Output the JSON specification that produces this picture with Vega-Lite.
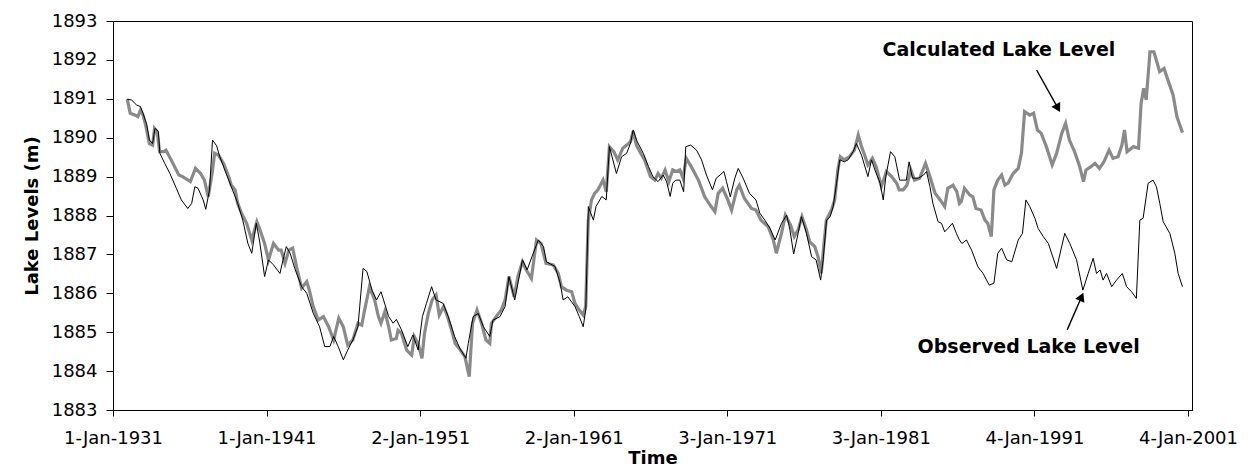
{
  "$schema": "https://vega.github.io/schema/vega-lite/v6.json",
  "width": 1079,
  "height": 389,
  "autosize": {"type": "none"},
  "padding": {"left": 113, "top": 21, "right": 57, "bottom": 56},
  "background": "white",
  "config": {
    "font": "DejaVu Sans",
    "view": {"stroke": "black", "strokeWidth": 1},
    "axis": {
      "grid": false,
      "domainColor": "black",
      "tickColor": "black",
      "labelColor": "black",
      "titleColor": "black",
      "labelFontSize": 18,
      "titleFontSize": 18,
      "titleFontWeight": "bold",
      "labelFont": "DejaVu Sans",
      "titleFont": "DejaVu Sans"
    }
  },
  "datasets": {
    "calculated": [
      {"date": "1931-12-05", "level": 1890.99},
      {"date": "1932-02-15", "level": 1890.63},
      {"date": "1932-06-15", "level": 1890.58},
      {"date": "1932-08-15", "level": 1890.54},
      {"date": "1932-10-15", "level": 1890.71},
      {"date": "1932-12-15", "level": 1890.58},
      {"date": "1933-02-15", "level": 1890.33},
      {"date": "1933-05-15", "level": 1889.85},
      {"date": "1933-08-01", "level": 1889.81},
      {"date": "1933-09-15", "level": 1890.24},
      {"date": "1933-11-15", "level": 1890.16},
      {"date": "1934-01-15", "level": 1889.64},
      {"date": "1934-04-15", "level": 1889.64},
      {"date": "1934-06-15", "level": 1889.68},
      {"date": "1934-10-15", "level": 1889.43},
      {"date": "1935-04-15", "level": 1889.04},
      {"date": "1935-07-15", "level": 1889.00},
      {"date": "1936-01-15", "level": 1888.87},
      {"date": "1936-05-15", "level": 1889.21},
      {"date": "1936-09-15", "level": 1889.08},
      {"date": "1936-12-15", "level": 1888.91},
      {"date": "1937-03-15", "level": 1888.48},
      {"date": "1937-06-15", "level": 1889.08},
      {"date": "1937-08-15", "level": 1889.60},
      {"date": "1937-11-15", "level": 1889.55},
      {"date": "1938-03-15", "level": 1889.34},
      {"date": "1938-07-15", "level": 1889.00},
      {"date": "1938-09-15", "level": 1888.78},
      {"date": "1938-12-15", "level": 1888.66},
      {"date": "1939-02-15", "level": 1888.31},
      {"date": "1939-05-15", "level": 1888.06},
      {"date": "1939-09-15", "level": 1887.80},
      {"date": "1940-01-15", "level": 1887.37},
      {"date": "1940-05-15", "level": 1887.84},
      {"date": "1940-07-15", "level": 1887.67},
      {"date": "1940-11-15", "level": 1887.28},
      {"date": "1941-02-15", "level": 1886.86},
      {"date": "1941-06-15", "level": 1887.28},
      {"date": "1941-10-15", "level": 1887.11},
      {"date": "1941-12-15", "level": 1887.11},
      {"date": "1942-03-15", "level": 1886.77},
      {"date": "1942-06-15", "level": 1887.11},
      {"date": "1942-09-15", "level": 1887.16},
      {"date": "1942-12-15", "level": 1886.68},
      {"date": "1943-04-15", "level": 1886.13},
      {"date": "1943-08-15", "level": 1886.30},
      {"date": "1943-10-15", "level": 1886.08},
      {"date": "1944-01-15", "level": 1885.66},
      {"date": "1944-05-15", "level": 1885.31},
      {"date": "1944-09-15", "level": 1885.40},
      {"date": "1945-01-15", "level": 1885.14},
      {"date": "1945-05-15", "level": 1884.80},
      {"date": "1945-09-15", "level": 1885.36},
      {"date": "1946-01-01", "level": 1885.14},
      {"date": "1946-04-15", "level": 1884.67},
      {"date": "1946-08-15", "level": 1884.80},
      {"date": "1946-12-15", "level": 1885.23},
      {"date": "1947-03-15", "level": 1885.18},
      {"date": "1947-05-15", "level": 1885.53},
      {"date": "1947-09-15", "level": 1886.17},
      {"date": "1948-01-15", "level": 1885.83},
      {"date": "1948-04-15", "level": 1885.40},
      {"date": "1948-06-15", "level": 1885.23},
      {"date": "1948-09-15", "level": 1885.53},
      {"date": "1948-12-15", "level": 1885.14},
      {"date": "1949-02-15", "level": 1884.80},
      {"date": "1949-06-15", "level": 1884.84},
      {"date": "1949-07-25", "level": 1885.05},
      {"date": "1949-10-15", "level": 1884.97},
      {"date": "1950-02-15", "level": 1884.54},
      {"date": "1950-06-15", "level": 1884.41},
      {"date": "1950-08-15", "level": 1884.89},
      {"date": "1950-11-15", "level": 1884.71},
      {"date": "1951-02-15", "level": 1884.33},
      {"date": "1951-04-15", "level": 1884.97},
      {"date": "1951-07-15", "level": 1885.48},
      {"date": "1951-10-15", "level": 1885.83},
      {"date": "1952-01-15", "level": 1885.96},
      {"date": "1952-04-01", "level": 1885.44},
      {"date": "1952-07-15", "level": 1885.66},
      {"date": "1952-10-15", "level": 1885.40},
      {"date": "1953-01-15", "level": 1885.06},
      {"date": "1953-04-15", "level": 1884.71},
      {"date": "1953-08-15", "level": 1884.54},
      {"date": "1953-12-01", "level": 1884.37},
      {"date": "1954-03-15", "level": 1883.86},
      {"date": "1954-06-01", "level": 1885.23},
      {"date": "1954-09-15", "level": 1885.57},
      {"date": "1955-01-01", "level": 1885.23},
      {"date": "1955-04-15", "level": 1884.80},
      {"date": "1955-07-15", "level": 1884.71},
      {"date": "1955-08-25", "level": 1885.23},
      {"date": "1955-12-15", "level": 1885.40},
      {"date": "1956-04-15", "level": 1885.57},
      {"date": "1956-07-15", "level": 1885.83},
      {"date": "1956-10-15", "level": 1886.43},
      {"date": "1957-02-15", "level": 1885.91},
      {"date": "1957-05-15", "level": 1886.43},
      {"date": "1957-09-01", "level": 1886.81},
      {"date": "1957-12-01", "level": 1886.60},
      {"date": "1958-04-01", "level": 1886.38},
      {"date": "1958-08-01", "level": 1887.37},
      {"date": "1958-11-15", "level": 1887.28},
      {"date": "1959-03-15", "level": 1886.77},
      {"date": "1959-09-01", "level": 1886.73},
      {"date": "1960-01-01", "level": 1886.51},
      {"date": "1960-03-15", "level": 1886.17},
      {"date": "1960-07-15", "level": 1886.08},
      {"date": "1960-11-15", "level": 1886.04},
      {"date": "1961-02-01", "level": 1885.74},
      {"date": "1961-05-15", "level": 1885.57},
      {"date": "1961-08-15", "level": 1885.44},
      {"date": "1961-10-15", "level": 1885.66},
      {"date": "1961-11-15", "level": 1886.86},
      {"date": "1961-12-15", "level": 1887.88},
      {"date": "1962-03-01", "level": 1888.40},
      {"date": "1962-05-15", "level": 1888.57},
      {"date": "1962-08-01", "level": 1888.66},
      {"date": "1962-12-01", "level": 1888.91},
      {"date": "1963-02-15", "level": 1888.61},
      {"date": "1963-05-01", "level": 1889.77},
      {"date": "1963-08-15", "level": 1889.64},
      {"date": "1963-11-15", "level": 1889.43},
      {"date": "1964-03-15", "level": 1889.73},
      {"date": "1964-06-15", "level": 1889.81},
      {"date": "1964-09-15", "level": 1889.90},
      {"date": "1964-11-15", "level": 1890.16},
      {"date": "1965-02-01", "level": 1889.81},
      {"date": "1965-05-15", "level": 1889.60},
      {"date": "1965-08-15", "level": 1889.43},
      {"date": "1966-01-01", "level": 1889.00},
      {"date": "1966-04-15", "level": 1888.91},
      {"date": "1966-07-01", "level": 1889.08},
      {"date": "1966-09-15", "level": 1888.96},
      {"date": "1966-12-15", "level": 1889.17},
      {"date": "1967-03-15", "level": 1888.87},
      {"date": "1967-06-15", "level": 1889.17},
      {"date": "1967-09-15", "level": 1889.13},
      {"date": "1967-12-01", "level": 1889.17},
      {"date": "1968-02-15", "level": 1888.96},
      {"date": "1968-05-01", "level": 1889.47},
      {"date": "1968-09-01", "level": 1889.25},
      {"date": "1969-02-15", "level": 1888.91},
      {"date": "1969-07-15", "level": 1888.48},
      {"date": "1969-12-15", "level": 1888.23},
      {"date": "1970-03-15", "level": 1888.10},
      {"date": "1970-06-01", "level": 1888.57},
      {"date": "1970-09-15", "level": 1888.70},
      {"date": "1971-01-15", "level": 1888.40},
      {"date": "1971-04-15", "level": 1888.14},
      {"date": "1971-08-15", "level": 1888.66},
      {"date": "1971-10-15", "level": 1888.78},
      {"date": "1972-02-15", "level": 1888.44},
      {"date": "1972-08-01", "level": 1888.18},
      {"date": "1972-11-15", "level": 1888.14},
      {"date": "1973-03-15", "level": 1887.88},
      {"date": "1973-09-01", "level": 1887.71},
      {"date": "1974-01-01", "level": 1887.37},
      {"date": "1974-03-15", "level": 1887.03},
      {"date": "1974-07-15", "level": 1887.54},
      {"date": "1974-10-15", "level": 1888.01},
      {"date": "1975-02-15", "level": 1887.76},
      {"date": "1975-05-15", "level": 1887.46},
      {"date": "1975-08-15", "level": 1887.63},
      {"date": "1975-11-15", "level": 1887.97},
      {"date": "1976-03-01", "level": 1887.63},
      {"date": "1976-05-15", "level": 1887.33},
      {"date": "1976-09-15", "level": 1887.20},
      {"date": "1976-12-01", "level": 1886.94},
      {"date": "1977-02-15", "level": 1886.51},
      {"date": "1977-04-15", "level": 1887.20},
      {"date": "1977-06-15", "level": 1887.88},
      {"date": "1977-10-15", "level": 1888.14},
      {"date": "1978-01-01", "level": 1888.40},
      {"date": "1978-03-15", "level": 1889.17},
      {"date": "1978-05-15", "level": 1889.51},
      {"date": "1978-08-15", "level": 1889.43},
      {"date": "1978-12-15", "level": 1889.51},
      {"date": "1979-04-15", "level": 1889.68},
      {"date": "1979-07-15", "level": 1890.07},
      {"date": "1979-10-01", "level": 1889.77},
      {"date": "1979-12-15", "level": 1889.55},
      {"date": "1980-03-01", "level": 1889.30},
      {"date": "1980-06-15", "level": 1889.47},
      {"date": "1980-09-15", "level": 1889.25},
      {"date": "1981-01-15", "level": 1888.74},
      {"date": "1981-05-15", "level": 1889.13},
      {"date": "1981-09-15", "level": 1889.00},
      {"date": "1982-01-15", "level": 1888.83},
      {"date": "1982-03-15", "level": 1888.66},
      {"date": "1982-06-15", "level": 1888.66},
      {"date": "1982-09-15", "level": 1888.78},
      {"date": "1982-12-15", "level": 1889.17},
      {"date": "1983-03-15", "level": 1888.91},
      {"date": "1983-07-15", "level": 1888.96},
      {"date": "1983-12-01", "level": 1889.34},
      {"date": "1984-03-15", "level": 1889.00},
      {"date": "1984-07-15", "level": 1888.57},
      {"date": "1984-11-15", "level": 1888.40},
      {"date": "1985-03-01", "level": 1888.23},
      {"date": "1985-05-15", "level": 1888.70},
      {"date": "1985-09-15", "level": 1888.78},
      {"date": "1985-12-15", "level": 1888.61},
      {"date": "1986-02-15", "level": 1888.31},
      {"date": "1986-04-01", "level": 1888.36},
      {"date": "1986-06-15", "level": 1888.70},
      {"date": "1986-10-15", "level": 1888.53},
      {"date": "1987-01-01", "level": 1888.48},
      {"date": "1987-03-15", "level": 1888.18},
      {"date": "1987-07-15", "level": 1888.14},
      {"date": "1987-10-15", "level": 1887.88},
      {"date": "1987-12-20", "level": 1887.80},
      {"date": "1988-03-15", "level": 1887.46},
      {"date": "1988-05-15", "level": 1888.66},
      {"date": "1988-08-15", "level": 1888.91},
      {"date": "1988-11-15", "level": 1889.04},
      {"date": "1989-02-01", "level": 1888.78},
      {"date": "1989-04-15", "level": 1888.83},
      {"date": "1989-08-15", "level": 1889.08},
      {"date": "1989-12-15", "level": 1889.21},
      {"date": "1990-03-01", "level": 1889.60},
      {"date": "1990-05-15", "level": 1890.67},
      {"date": "1990-09-15", "level": 1890.58},
      {"date": "1990-12-15", "level": 1890.63},
      {"date": "1991-03-15", "level": 1890.20},
      {"date": "1991-06-15", "level": 1890.11},
      {"date": "1991-10-15", "level": 1889.77},
      {"date": "1992-03-01", "level": 1889.30},
      {"date": "1992-06-15", "level": 1889.60},
      {"date": "1992-10-15", "level": 1890.11},
      {"date": "1993-01-15", "level": 1890.37},
      {"date": "1993-04-15", "level": 1889.94},
      {"date": "1993-08-15", "level": 1889.64},
      {"date": "1993-12-15", "level": 1889.26},
      {"date": "1994-03-15", "level": 1888.87},
      {"date": "1994-05-15", "level": 1889.17},
      {"date": "1994-09-15", "level": 1889.26},
      {"date": "1994-12-15", "level": 1889.34},
      {"date": "1995-04-01", "level": 1889.21},
      {"date": "1995-07-15", "level": 1889.38},
      {"date": "1995-11-15", "level": 1889.68},
      {"date": "1996-02-15", "level": 1889.47},
      {"date": "1996-06-15", "level": 1889.51},
      {"date": "1996-09-15", "level": 1889.81},
      {"date": "1996-11-15", "level": 1890.20},
      {"date": "1997-01-15", "level": 1889.64},
      {"date": "1997-06-15", "level": 1889.77},
      {"date": "1997-10-15", "level": 1889.73},
      {"date": "1997-12-15", "level": 1890.88},
      {"date": "1998-02-15", "level": 1891.27},
      {"date": "1998-04-15", "level": 1890.97},
      {"date": "1998-07-15", "level": 1892.21},
      {"date": "1998-10-15", "level": 1892.21},
      {"date": "1999-03-01", "level": 1891.70},
      {"date": "1999-06-15", "level": 1891.78},
      {"date": "1999-09-15", "level": 1891.48},
      {"date": "2000-01-15", "level": 1891.10},
      {"date": "2000-04-15", "level": 1890.54},
      {"date": "2000-08-25", "level": 1890.13}
    ],
    "observed": [
      {"date": "1931-12-05", "level": 1890.99},
      {"date": "1932-03-15", "level": 1890.97},
      {"date": "1932-07-15", "level": 1890.84},
      {"date": "1932-10-15", "level": 1890.80},
      {"date": "1932-12-15", "level": 1890.63},
      {"date": "1933-03-15", "level": 1890.33},
      {"date": "1933-05-15", "level": 1889.94},
      {"date": "1933-08-01", "level": 1889.85},
      {"date": "1933-09-25", "level": 1890.24},
      {"date": "1933-12-15", "level": 1890.16},
      {"date": "1934-01-20", "level": 1889.60},
      {"date": "1934-05-15", "level": 1889.34},
      {"date": "1934-09-15", "level": 1889.08},
      {"date": "1935-02-15", "level": 1888.70},
      {"date": "1935-06-15", "level": 1888.40},
      {"date": "1935-11-15", "level": 1888.18},
      {"date": "1936-02-15", "level": 1888.31},
      {"date": "1936-05-01", "level": 1888.74},
      {"date": "1936-07-15", "level": 1888.70},
      {"date": "1936-11-15", "level": 1888.40},
      {"date": "1937-01-15", "level": 1888.16},
      {"date": "1937-04-15", "level": 1888.66},
      {"date": "1937-06-25", "level": 1889.94},
      {"date": "1937-10-01", "level": 1889.79},
      {"date": "1937-12-15", "level": 1889.51},
      {"date": "1938-05-15", "level": 1889.08},
      {"date": "1938-09-15", "level": 1888.74},
      {"date": "1939-02-15", "level": 1888.31},
      {"date": "1939-06-15", "level": 1887.88},
      {"date": "1939-10-15", "level": 1887.28},
      {"date": "1940-01-15", "level": 1887.03},
      {"date": "1940-05-01", "level": 1887.80},
      {"date": "1940-07-15", "level": 1887.37},
      {"date": "1940-11-15", "level": 1886.43},
      {"date": "1941-02-15", "level": 1886.86},
      {"date": "1941-06-15", "level": 1886.73},
      {"date": "1941-11-15", "level": 1886.51},
      {"date": "1942-02-15", "level": 1886.94},
      {"date": "1942-04-15", "level": 1887.20},
      {"date": "1942-07-15", "level": 1887.03},
      {"date": "1942-11-15", "level": 1886.60},
      {"date": "1943-04-15", "level": 1886.17},
      {"date": "1943-08-15", "level": 1886.00},
      {"date": "1944-01-15", "level": 1885.49},
      {"date": "1944-06-15", "level": 1885.14},
      {"date": "1944-10-15", "level": 1884.63},
      {"date": "1945-02-15", "level": 1884.63},
      {"date": "1945-05-15", "level": 1884.89},
      {"date": "1945-09-01", "level": 1884.63},
      {"date": "1946-01-01", "level": 1884.29},
      {"date": "1946-04-15", "level": 1884.54},
      {"date": "1946-08-15", "level": 1884.80},
      {"date": "1946-12-15", "level": 1885.14},
      {"date": "1947-04-15", "level": 1886.64},
      {"date": "1947-07-15", "level": 1886.56},
      {"date": "1947-11-15", "level": 1886.08},
      {"date": "1948-03-01", "level": 1885.83},
      {"date": "1948-06-15", "level": 1886.04},
      {"date": "1948-08-15", "level": 1885.83},
      {"date": "1948-12-15", "level": 1885.40},
      {"date": "1949-04-01", "level": 1885.23},
      {"date": "1949-06-15", "level": 1885.33},
      {"date": "1949-10-15", "level": 1885.06},
      {"date": "1950-03-15", "level": 1884.63},
      {"date": "1950-07-15", "level": 1884.93},
      {"date": "1950-11-15", "level": 1884.54},
      {"date": "1951-02-25", "level": 1885.40},
      {"date": "1951-06-01", "level": 1885.74},
      {"date": "1951-10-01", "level": 1886.17},
      {"date": "1952-01-15", "level": 1885.83},
      {"date": "1952-07-01", "level": 1885.74},
      {"date": "1952-11-01", "level": 1885.40},
      {"date": "1953-04-01", "level": 1884.89},
      {"date": "1953-08-01", "level": 1884.59},
      {"date": "1953-12-25", "level": 1884.33},
      {"date": "1954-02-20", "level": 1884.71},
      {"date": "1954-06-15", "level": 1885.40},
      {"date": "1954-10-15", "level": 1885.48},
      {"date": "1955-02-15", "level": 1885.14},
      {"date": "1955-07-15", "level": 1884.89},
      {"date": "1955-10-01", "level": 1885.31},
      {"date": "1956-03-15", "level": 1885.40},
      {"date": "1956-07-15", "level": 1885.66},
      {"date": "1956-10-15", "level": 1886.43},
      {"date": "1957-03-01", "level": 1885.83},
      {"date": "1957-09-01", "level": 1886.86},
      {"date": "1957-12-20", "level": 1886.60},
      {"date": "1958-05-15", "level": 1887.03},
      {"date": "1958-09-15", "level": 1887.37},
      {"date": "1959-01-15", "level": 1887.20},
      {"date": "1959-03-25", "level": 1886.81},
      {"date": "1959-10-15", "level": 1886.69},
      {"date": "1960-02-15", "level": 1886.26},
      {"date": "1960-04-25", "level": 1885.83},
      {"date": "1960-08-15", "level": 1885.91},
      {"date": "1961-02-01", "level": 1885.66},
      {"date": "1961-05-15", "level": 1885.40},
      {"date": "1961-08-15", "level": 1885.14},
      {"date": "1961-10-15", "level": 1885.57},
      {"date": "1961-11-15", "level": 1886.86},
      {"date": "1961-12-15", "level": 1888.23},
      {"date": "1962-04-15", "level": 1887.88},
      {"date": "1962-06-15", "level": 1888.23},
      {"date": "1962-11-01", "level": 1888.49},
      {"date": "1963-02-15", "level": 1888.40},
      {"date": "1963-05-01", "level": 1889.77},
      {"date": "1963-10-15", "level": 1889.08},
      {"date": "1964-02-15", "level": 1889.51},
      {"date": "1964-06-15", "level": 1889.60},
      {"date": "1964-09-15", "level": 1889.86},
      {"date": "1964-11-15", "level": 1890.20},
      {"date": "1965-02-20", "level": 1889.90},
      {"date": "1965-07-15", "level": 1889.60},
      {"date": "1965-11-15", "level": 1889.26},
      {"date": "1966-03-01", "level": 1889.00},
      {"date": "1966-07-01", "level": 1888.87},
      {"date": "1966-11-01", "level": 1889.04},
      {"date": "1967-01-20", "level": 1888.87},
      {"date": "1967-04-15", "level": 1888.49},
      {"date": "1967-06-15", "level": 1888.83},
      {"date": "1967-08-25", "level": 1888.91},
      {"date": "1967-12-01", "level": 1888.91},
      {"date": "1968-03-01", "level": 1888.61},
      {"date": "1968-04-20", "level": 1889.77},
      {"date": "1968-08-15", "level": 1889.81},
      {"date": "1969-01-01", "level": 1889.68},
      {"date": "1969-05-01", "level": 1889.43},
      {"date": "1969-08-25", "level": 1889.04},
      {"date": "1970-01-15", "level": 1888.66},
      {"date": "1970-04-15", "level": 1888.96},
      {"date": "1970-07-15", "level": 1889.04},
      {"date": "1970-10-15", "level": 1889.13},
      {"date": "1970-12-15", "level": 1888.87},
      {"date": "1971-03-15", "level": 1888.48},
      {"date": "1971-07-01", "level": 1888.96},
      {"date": "1971-09-20", "level": 1889.21},
      {"date": "1972-01-15", "level": 1888.96},
      {"date": "1972-06-15", "level": 1888.57},
      {"date": "1972-11-15", "level": 1888.40},
      {"date": "1973-02-15", "level": 1888.06},
      {"date": "1973-06-15", "level": 1887.88},
      {"date": "1973-10-15", "level": 1887.67},
      {"date": "1974-02-15", "level": 1887.37},
      {"date": "1974-07-15", "level": 1887.80},
      {"date": "1974-11-15", "level": 1888.01},
      {"date": "1975-02-01", "level": 1887.63},
      {"date": "1975-05-01", "level": 1887.01},
      {"date": "1975-08-15", "level": 1887.54},
      {"date": "1975-11-01", "level": 1887.97},
      {"date": "1976-03-01", "level": 1887.54},
      {"date": "1976-07-01", "level": 1886.94},
      {"date": "1976-10-15", "level": 1886.86},
      {"date": "1977-02-01", "level": 1886.34},
      {"date": "1977-04-01", "level": 1886.86},
      {"date": "1977-06-20", "level": 1887.88},
      {"date": "1977-09-15", "level": 1887.97},
      {"date": "1977-11-25", "level": 1888.23},
      {"date": "1978-02-15", "level": 1888.83},
      {"date": "1978-05-01", "level": 1889.43},
      {"date": "1978-08-15", "level": 1889.38},
      {"date": "1978-11-15", "level": 1889.43},
      {"date": "1979-03-15", "level": 1889.64},
      {"date": "1979-06-01", "level": 1889.85},
      {"date": "1979-10-01", "level": 1889.55},
      {"date": "1980-03-01", "level": 1889.00},
      {"date": "1980-05-25", "level": 1889.43},
      {"date": "1980-08-15", "level": 1889.17},
      {"date": "1980-12-15", "level": 1888.83},
      {"date": "1981-03-01", "level": 1888.40},
      {"date": "1981-05-01", "level": 1889.00},
      {"date": "1981-08-20", "level": 1889.64},
      {"date": "1981-12-01", "level": 1889.51},
      {"date": "1982-03-25", "level": 1888.91},
      {"date": "1982-09-01", "level": 1888.91},
      {"date": "1982-11-05", "level": 1889.38},
      {"date": "1983-01-25", "level": 1888.96},
      {"date": "1983-06-15", "level": 1888.96},
      {"date": "1983-10-15", "level": 1889.04},
      {"date": "1983-12-25", "level": 1889.13},
      {"date": "1984-03-15", "level": 1888.74},
      {"date": "1984-05-25", "level": 1888.31},
      {"date": "1984-09-25", "level": 1887.84},
      {"date": "1984-12-15", "level": 1887.80},
      {"date": "1985-03-01", "level": 1887.58},
      {"date": "1985-05-20", "level": 1887.67},
      {"date": "1985-09-01", "level": 1887.80},
      {"date": "1985-12-05", "level": 1887.54},
      {"date": "1986-02-15", "level": 1887.37},
      {"date": "1986-04-15", "level": 1887.28},
      {"date": "1986-08-01", "level": 1887.37},
      {"date": "1986-12-01", "level": 1887.11},
      {"date": "1987-05-01", "level": 1886.68},
      {"date": "1987-09-01", "level": 1886.51},
      {"date": "1988-01-25", "level": 1886.21},
      {"date": "1988-05-15", "level": 1886.26},
      {"date": "1988-08-15", "level": 1887.03},
      {"date": "1988-11-15", "level": 1887.16},
      {"date": "1989-03-15", "level": 1886.86},
      {"date": "1989-07-15", "level": 1886.81},
      {"date": "1989-12-15", "level": 1887.37},
      {"date": "1990-03-25", "level": 1887.54},
      {"date": "1990-06-15", "level": 1888.40},
      {"date": "1990-09-15", "level": 1888.23},
      {"date": "1991-01-15", "level": 1887.93},
      {"date": "1991-04-01", "level": 1887.67},
      {"date": "1991-08-01", "level": 1887.46},
      {"date": "1991-12-01", "level": 1887.28},
      {"date": "1992-06-15", "level": 1886.64},
      {"date": "1992-12-25", "level": 1887.54},
      {"date": "1993-04-25", "level": 1887.28},
      {"date": "1993-10-01", "level": 1886.86},
      {"date": "1994-03-01", "level": 1886.08},
      {"date": "1994-07-05", "level": 1886.51},
      {"date": "1994-11-01", "level": 1886.90},
      {"date": "1995-01-20", "level": 1886.51},
      {"date": "1995-04-15", "level": 1886.60},
      {"date": "1995-06-25", "level": 1886.34},
      {"date": "1995-09-15", "level": 1886.51},
      {"date": "1996-01-15", "level": 1886.17},
      {"date": "1996-05-10", "level": 1886.34},
      {"date": "1996-09-25", "level": 1886.51},
      {"date": "1997-01-05", "level": 1886.17},
      {"date": "1997-05-01", "level": 1886.04},
      {"date": "1997-08-25", "level": 1885.87},
      {"date": "1997-11-15", "level": 1887.88},
      {"date": "1998-02-01", "level": 1887.93},
      {"date": "1998-06-01", "level": 1888.83},
      {"date": "1998-09-25", "level": 1888.91},
      {"date": "1998-12-15", "level": 1888.74},
      {"date": "1999-03-05", "level": 1888.31},
      {"date": "1999-05-25", "level": 1887.84},
      {"date": "1999-10-30", "level": 1887.54},
      {"date": "2000-02-25", "level": 1887.03},
      {"date": "2000-05-15", "level": 1886.51},
      {"date": "2000-08-25", "level": 1886.17}
    ],
    "notes": [
      {"label": "Calculated Lake Level", "date": "1996-04-12", "level": 1892.25, "from": "1991-02-25", "fromLevel": 1891.74, "to": "1992-07-16", "toLevel": 1890.76},
      {"label": "Observed Lake Level", "date": "1997-11-13", "level": 1884.63, "from": "1993-02-21", "fromLevel": 1885.06, "to": "1994-01-30", "toLevel": 1885.91}
    ]
  },
  "encoding": {
    "x": {
      "field": "date",
      "type": "temporal",
      "scale": {"type": "utc", "domain": [{"year": 1931, "month": 1, "date": 1, "utc": true}, {"year": 2001, "month": 4, "date": 9, "utc": true}]},
      "axis": {
        "title": "Time",
        "values": [
          {"year": 1931, "month": 1, "date": 1, "utc": true},
          {"year": 1941, "month": 1, "date": 1, "utc": true},
          {"year": 1951, "month": 1, "date": 2, "utc": true},
          {"year": 1961, "month": 1, "date": 2, "utc": true},
          {"year": 1971, "month": 1, "date": 3, "utc": true},
          {"year": 1981, "month": 1, "date": 3, "utc": true},
          {"year": 1991, "month": 1, "date": 4, "utc": true},
          {"year": 2001, "month": 1, "date": 4, "utc": true}
        ],
        "labelExpr": "utcFormat(datum.value, '%-d-%b-%Y')",
        "tickSize": 6,
        "labelPadding": 13,
        "titlePadding": 2,
        "labelFlush": false,
        "labelOverlap": false
      }
    },
    "y": {
      "field": "level",
      "type": "quantitative",
      "scale": {"domain": [1883, 1893], "nice": false, "zero": false},
      "axis": {
        "title": "Lake Levels (m)",
        "values": [1883, 1884, 1885, 1886, 1887, 1888, 1889, 1890, 1891, 1892, 1893],
        "format": "d",
        "tickSize": 7,
        "labelPadding": 9,
        "titlePadding": 10,
        "labelFlush": false,
        "labelOverlap": false
      }
    }
  },
  "layer": [
    {
      "data": {"name": "calculated"},
      "mark": {"type": "line", "color": "#8a8a8a", "strokeWidth": 3.2, "clip": true}
    },
    {
      "data": {"name": "observed"},
      "mark": {"type": "line", "color": "#000000", "strokeWidth": 1}
    },
    {
      "data": {"name": "notes"},
      "mark": {"type": "rule", "color": "black", "strokeWidth": 1.4},
      "encoding": {
        "x": {"field": "from", "type": "temporal"},
        "x2": {"field": "to"},
        "y": {"field": "fromLevel", "type": "quantitative"},
        "y2": {"field": "toLevel"}
      }
    },
    {
      "data": {"name": "notes"},
      "transform": [{"filter": "datum.label === 'Calculated Lake Level'"}],
      "mark": {"type": "point", "shape": "triangle-up", "filled": true, "color": "black", "size": 100, "opacity": 1, "angle": 151},
      "encoding": {
        "x": {"field": "to", "type": "temporal"},
        "y": {"field": "toLevel", "type": "quantitative"}
      }
    },
    {
      "data": {"name": "notes"},
      "transform": [{"filter": "datum.label === 'Observed Lake Level'"}],
      "mark": {"type": "point", "shape": "triangle-up", "filled": true, "color": "black", "size": 100, "opacity": 1, "angle": 24},
      "encoding": {
        "x": {"field": "to", "type": "temporal"},
        "y": {"field": "toLevel", "type": "quantitative"}
      }
    },
    {
      "data": {"name": "notes"},
      "mark": {"type": "text", "align": "right", "baseline": "middle", "fontSize": 19, "fontWeight": "bold", "font": "DejaVu Sans", "color": "black"},
      "encoding": {
        "text": {"field": "label"}
      }
    }
  ]
}
